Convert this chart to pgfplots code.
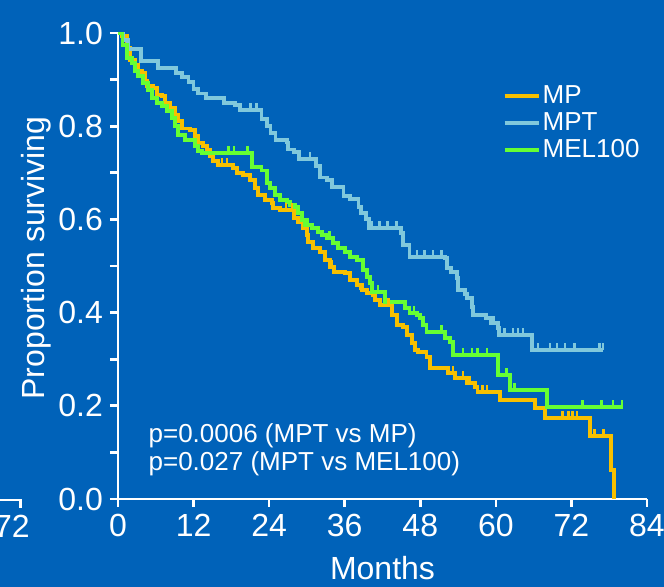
\documentclass[border=0pt]{standalone}
\usepackage{pgfplots}
\pgfplotsset{compat=1.18}
\usepackage{fontspec}
\setmainfont{Liberation Sans}
\definecolor{bg}{HTML}{0062B9}
\definecolor{mpc}{HTML}{F7C000}
\definecolor{mptc}{HTML}{80C8DC}
\definecolor{melc}{HTML}{66FF33}
\pgfdeclareplotmark{cens}{\pgfpathmoveto{\pgfpointorigin}\pgfpathlineto{\pgfpoint{0pt}{3.5pt}}\pgfusepathqstroke}
\begin{document}
\begin{tikzpicture}[x=0.5pt,y=0.5pt]
\fill[bg] (0,0) rectangle (664,587);
\useasboundingbox (0,0) rectangle (664,587);
% fragment of neighbouring panel
\draw[white, line width=1.35pt] (0,87) -- (20.7,87) -- (20.7,79);
\node[white, font=\fontsize{16}{18}\selectfont, anchor=north, inner sep=0pt] at (12,72) {72};
\begin{axis}[
  at={(59pt,44pt)}, anchor=south west,
  scale only axis, width=264.5pt, height=233pt,
  xmin=0, xmax=84, ymin=0, ymax=1,
  axis lines=left,
  axis line style={white, line width=1.35pt, -},
  xtick={0,12,24,36,48,60,72,84},
  ytick={0,0.2,0.4,0.6,0.8,1.0},
  minor ytick={0.1,0.3,0.5,0.7,0.9},
  tick style={white, line width=1.35pt},
  major tick length=4pt, minor tick length=4pt,
  tick align=outside,
  /pgf/number format/assume math mode=true,
  ticklabel style={white, font=\fontsize{16}{18}\selectfont},
  yticklabel style={/pgf/number format/.cd, fixed, fixed zerofill, precision=1},
  xlabel={Months}, ylabel={Proportion surviving},
  label style={white, font=\fontsize{16}{18}\selectfont},
  xlabel style={yshift=-3pt},
  ylabel style={yshift=-3pt, xshift=4pt},
  legend style={draw=none, fill=none, text=white, font=\fontsize{13}{15}\selectfont,
    at={(0.715,0.905)}, anchor=north west, row sep=-1pt,
    nodes={inner sep=1pt, text height=10pt, text depth=2.5pt}},
  legend cell align=left,
  legend image code/.code={\draw[#1, line width=2pt] (0pt,0pt) -- (17pt,0pt);},
  every axis plot/.append style={line width=1.9pt, line join=miter},
]
\addplot[mpc, const plot] coordinates {
(0,1.0)(0.6,0.994)(1.4,0.968)(1.9,0.942)(2.7,0.931)(3.2,0.918)(3.8,0.914)(4.3,0.897)
(4.6,0.886)(5.6,0.882)(6.2,0.867)(7.0,0.865)(7.5,0.850)(8.3,0.839)(9.0,0.824)(9.5,0.811)
(10.2,0.795)(11.4,0.792)(12.2,0.779)(12.7,0.764)(13.5,0.757)(14.1,0.749)(14.6,0.736)
(15.1,0.725)(15.9,0.717)(18.3,0.710)(18.9,0.700)(19.8,0.695)(21.0,0.685)(21.7,0.667)
(22.2,0.652)(23.3,0.642)(24.4,0.635)(24.6,0.624)(25.7,0.620)(28.0,0.603)(28.6,0.594)
(29.4,0.582)(30.0,0.567)(30.2,0.551)(31.0,0.539)(32.1,0.530)(32.9,0.513)(33.7,0.498)
(34.3,0.487)(36.0,0.485)(36.8,0.470)(37.9,0.459)(38.7,0.448)(39.5,0.442)(40.5,0.438)
(40.8,0.427)(41.6,0.416)(43.5,0.395)(44.3,0.373)(45.2,0.369)(45.9,0.352)(46.7,0.335)
(47.1,0.320)(47.6,0.315)(49.0,0.305)(49.5,0.281)(52.4,0.270)(53.5,0.260)(55.4,0.249)
(56.7,0.240)(57.1,0.230)(60.6,0.212)(66.2,0.195)(67.8,0.174)(74.9,0.135)(78.3,0.062)
(78.7,0.0)};
\addlegendentry{MP}
\addplot[mptc, const plot] coordinates {
(0,1.0)(0.8,0.985)(1.6,0.965)(3.6,0.940)(6.3,0.925)(9.2,0.915)(10.2,0.905)(11.2,0.895)
(12.0,0.880)(12.7,0.870)(14.0,0.860)(16.8,0.850)(18.6,0.845)(19.4,0.835)(22.8,0.815)
(23.6,0.800)(24.2,0.785)(25.0,0.770)(26.8,0.765)(27.0,0.750)(28.0,0.745)(28.8,0.730)
(31.5,0.715)(32.1,0.690)(33.2,0.685)(34.0,0.670)(35.8,0.650)(36.8,0.643)(38.2,0.627)
(38.6,0.614)(39.4,0.600)(39.8,0.582)(44.9,0.571)(45.2,0.545)(46.3,0.519)(51.9,0.517)
(52.2,0.496)(52.9,0.487)(53.8,0.475)(54.0,0.448)(55.1,0.440)(55.4,0.431)(56.2,0.412)
(56.4,0.395)(58.4,0.388)(59.2,0.378)(60.3,0.367)(60.5,0.352)(65.7,0.320)(77.0,0.320)};
\addlegendentry{MPT}
\addplot[melc, const plot] coordinates {
(0,1.0)(0.7,0.975)(1.4,0.946)(2.2,0.936)(2.7,0.918)(3.2,0.908)(4.0,0.893)(4.8,0.878)
(5.4,0.860)(6.2,0.850)(7.0,0.843)(7.8,0.833)(8.6,0.818)(9.0,0.800)(9.5,0.781)(10.6,0.770)
(12.2,0.757)(12.7,0.747)(13.3,0.742)(21.3,0.712)(22.8,0.705)(23.7,0.678)(24.1,0.667)
(24.9,0.652)(25.7,0.642)(26.8,0.637)(27.3,0.631)(28.1,0.627)(28.6,0.614)(29.2,0.599)
(29.7,0.588)(30.8,0.582)(31.7,0.573)(32.4,0.567)(33.2,0.560)(34.1,0.549)(34.9,0.539)
(36.0,0.530)(36.8,0.519)(37.9,0.513)(38.9,0.491)(39.5,0.476)(40.0,0.464)(40.3,0.444)
(42.4,0.423)(45.6,0.410)(46.3,0.399)(47.5,0.395)(47.9,0.388)(48.4,0.373)(49.0,0.358)
(51.9,0.345)(52.7,0.337)(53.2,0.309)(60.3,0.266)(62.2,0.234)(68.1,0.197)(80.2,0.197)};
\addlegendentry{MEL100}
% censoring marks
\addplot[mpc, only marks, mark=cens, mark options={line width=1.3pt}, forget plot] coordinates {
(16.5,0.717)(17.3,0.717)(26.7,0.62)(27.6,0.62)(34.0,0.498)(38.5,0.448)(43.0,0.416)
(53.2,0.270)(54.8,0.260)(55.9,0.249)(57.9,0.23)(58.6,0.23)(70.6,0.174)(71.5,0.174)
(72.2,0.174)(72.9,0.174)(75.7,0.135)(77.1,0.135)};
\addplot[mptc, only marks, mark=cens, mark options={line width=1.3pt}, forget plot] coordinates {
(21.0,0.835)(22.0,0.835)(30.5,0.73)(40.3,0.582)(41.5,0.582)(42.8,0.582)(44.2,0.582)
(47.5,0.519)(48.7,0.519)(50.0,0.519)(51.4,0.519)(59.6,0.378)(61.4,0.352)(62.7,0.352)
(63.5,0.352)(64.3,0.352)(66.7,0.32)(68.6,0.32)(69.7,0.32)(71.0,0.32)(72.5,0.32)
(76.5,0.32)(77.0,0.32)};
\addplot[melc, only marks, mark=cens, mark options={line width=1.3pt}, forget plot] coordinates {
(17.5,0.742)(18.4,0.742)(20.6,0.742)(30.2,0.588)(33.6,0.56)(41.3,0.444)(47.0,0.399)
(51.4,0.358)(54.8,0.309)(56.2,0.309)(57.1,0.309)(58.6,0.309)(61.7,0.266)(63.0,0.234)
(73.8,0.197)(76.8,0.197)(78.6,0.197)(80.0,0.197)};
\node[anchor=base west, white, inner sep=0pt, font=\fontsize{13}{15}\selectfont] at (axis cs:4.8,0.122) {p=0.0006 (MPT vs MP)};
\node[anchor=base west, white, inner sep=0pt, font=\fontsize{13}{15}\selectfont] at (axis cs:4.8,0.062) {p=0.027 (MPT vs MEL100)};
\end{axis}
\end{tikzpicture}
\end{document}
